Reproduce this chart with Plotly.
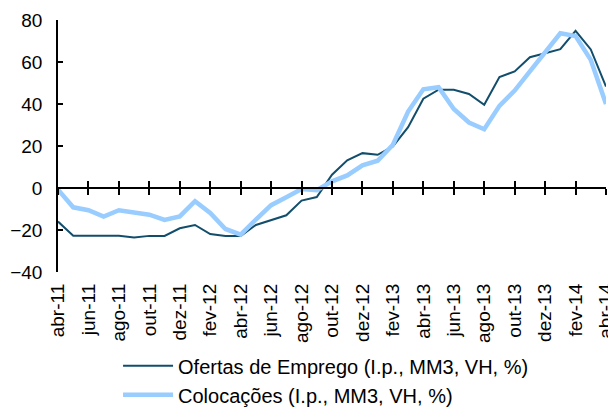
import plotly.graph_objects as go

months = ["abr-11", "mai-11", "jun-11", "jul-11", "ago-11", "set-11", "out-11", "nov-11", "dez-11",
          "jan-12", "fev-12", "mar-12", "abr-12", "mai-12", "jun-12", "jul-12", "ago-12", "set-12",
          "out-12", "nov-12", "dez-12", "jan-13", "fev-13", "mar-13", "abr-13", "mai-13", "jun-13",
          "jul-13", "ago-13", "set-13", "out-13", "nov-13", "dez-13", "jan-14", "fev-14", "mar-14",
          "abr-14"]

ofertas = [-16, -22.7, -22.7, -22.7, -22.7, -23.6, -22.8, -22.8, -19.2, -17.6, -21.9, -22.8,
           -22.8, -17.6, -15.4, -13, -6, -4.3, 6.3, 13.2, 16.6, 15.8, 19.8, 29, 42.5, 46.8,
           46.8, 44.8, 39.6, 52.8, 55.5, 62.3, 64.2, 66.1, 74.8, 66, 48.3]

colocacoes = [-0.8, -9.2, -10.6, -13.6, -10.6, -11.6, -12.7, -15.2, -13.5, -6.3, -11.9, -19.5,
              -22.2, -15, -8.2, -4.4, -0.5, -1.1, 3.2, 6, 10.8, 13, 20.6, 36.4, 47, 48,
              37.6, 31.2, 28, 39.1, 46.4, 55.5, 65, 73.7, 72.4, 61, 40]

font = "Liberation Sans, Arial, sans-serif"

fig = go.Figure()

# empty traces so the two zero-line axes (ticks above / below) get drawn
for ax in ["x2", "x3"]:
    fig.add_trace(go.Scatter(x=months, y=[None] * len(months), xaxis=ax, mode="lines",
                             showlegend=False, hoverinfo="skip"))

fig.add_trace(go.Scatter(x=months, y=ofertas, mode="lines", name="Ofertas de Emprego (I.p., MM3, VH, %)",
                         line=dict(color="#124E6C", width=2)))
fig.add_trace(go.Scatter(x=months, y=colocacoes, mode="lines", name="Colocações (I.p., MM3, VH, %)",
                         line=dict(color="#99CCFF", width=4.5)))

zero_axis = dict(type="category", categoryarray=months, range=[0, 36], dtick=2,
                 overlaying="x", anchor="free", position=1/3, showline=True,
                 linecolor="black", linewidth=1.5, ticklen=6, tickwidth=1.5,
                 tickcolor="black", showticklabels=False, showgrid=False, zeroline=False,
                 automargin=False)

# page body adds an 8px offset, so the figure is 8px smaller than the window
fig.update_layout(
    width=608, height=399,
    margin=dict(l=50, r=10, t=12, b=135, autoexpand=False),
    paper_bgcolor="white", plot_bgcolor="white",
    font=dict(family=font, size=19, color="black"),
    xaxis=dict(type="category", categoryarray=months, range=[0, 36], dtick=2,
               tickangle=-90, showline=False, ticks="", showgrid=False, zeroline=False,
               ticklabelstandoff=7, tickfont=dict(size=19), automargin=False,
               ticklabeloverflow="allow"),
    xaxis2=dict(zero_axis, ticks="outside"),
    xaxis3=dict(zero_axis, ticks="inside"),
    yaxis=dict(range=[-40, 80], dtick=20, showline=True, linecolor="black", linewidth=1.5,
               ticks="inside", ticklen=5, tickwidth=1.5, tickcolor="black",
               showgrid=False, zeroline=False, ticklabelstandoff=10, tickfont=dict(size=19),
               automargin=False),
    showlegend=True,
    legend=dict(x=0.181, y=0.152, xref="container", yref="container", xanchor="left", yanchor="top",
                font=dict(size=20), bgcolor="rgba(0,0,0,0)", tracegroupgap=0, itemwidth=50),
)

fig.write_html("out.html")
